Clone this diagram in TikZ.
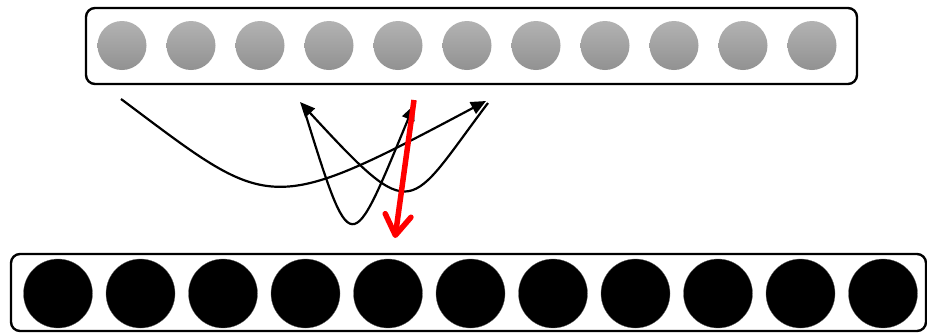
\documentclass[tikz,border=0pt]{standalone}
\usetikzlibrary{arrows.meta}
\begin{document}
\begin{tikzpicture}[x=1pt,y=-1pt,
	graycirc/.style={circle, minimum size=49pt, inner sep=0pt, draw=none,
		top color=black!30, bottom color=black!43},
	blackcirc/.style={circle, minimum size=69pt, inner sep=0pt, fill=black, draw=black!60, line width=0.3pt},
	jump/.style={draw=black, line width=2.2pt, -{Triangle[length=15pt,width=13pt]}}]
	
	% Rahmen des Bildes
	\useasboundingbox (0,0) rectangle (927,333);
	
	% Oberer Behälter mit grauen Kugeln
	\draw[line width=2.4pt, rounded corners=9pt] (86,8) rectangle (857,84);
	\foreach \i in {1,...,11}
	\node[graycirc] (g\i) at ({122+69*(\i-1)},45.5) {};
	
	% Unterer Behälter mit schwarzen Kugeln
	\draw[line width=2.4pt, rounded corners=9pt] (11,254) rectangle (926,331);
	\foreach \i in {1,...,11}
	\node[blackcirc] (b\i) at ({58+82.5*(\i-1)},293.5) {};
	
	% Anfangs- und Endpunkte der Sprünge
	\coordinate (p1) at (121,99);
	\coordinate (p2) at (486,101);
	\coordinate (p3) at (488,103);
	\coordinate (p4) at (300,102);
	\coordinate (p5) at (303,106);
	\coordinate (p6) at (414,105);
	\coordinate (r1) at (414,100);
	\coordinate (r2) at (395,238);
	
	% Schwarze Sprünge
	\draw[jump] (p1) .. controls (271,211) and (266,218) .. (p2);
	\draw[jump] (p3) .. controls (407,210) and (416,228) .. (p4);
	\draw[jump] (p5) .. controls (352,264) and (350,259) .. (p6);
	
	% Roter Pfeil nach unten
	\draw[red, line width=5.5pt,
	-{Straight Barb[length=20pt,width=26pt,round]}] (r1) -- (r2);
	
\end{tikzpicture}
\end{document}
